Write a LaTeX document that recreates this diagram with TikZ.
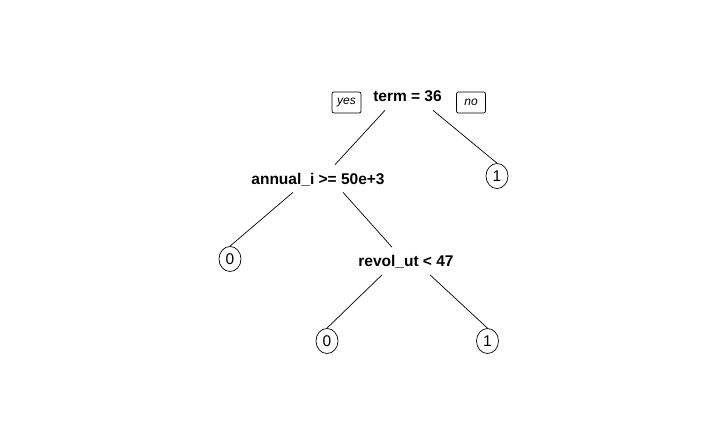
\documentclass[tikz,border=0pt]{standalone}
\usepackage{fontspec}
\setmainfont{Liberation Sans}
\usetikzlibrary{shapes.geometric}

\begin{document}
\begin{tikzpicture}[x=1pt,y=-1pt,line width=0.7pt,
                split/.style={font=\fontsize{15.5}{18}\selectfont\bfseries, inner sep=0pt,
                              text height=11pt, text depth=0pt, minimum height=27pt},
                leaf/.style={draw, ellipse, inner sep=0pt, minimum width=22pt, minimum height=25pt,
                             font=\fontsize{15.5}{18}\selectfont},
                tag/.style={draw, rounded corners=2pt, inner sep=0pt, minimum width=29pt,
                            minimum height=21pt, font=\fontsize{12}{14}\selectfont\itshape}]
                \useasboundingbox (0,0) rectangle (728,441);

                \node[split] (term)   at (407.5,96.5) {term = 36};
                \node[split] (annual) at (318,178.5)  {annual\_i >= 50e+3};
                \node[split] (revol)  at (406,261)    {revol\_ut < 47};

                \node[tag] (yes) at (346.5,102.5) {yes};
                \node[tag] (no)  at (471,102.5)   {no};

                \node[leaf] (leafA) at (497,176)   {1};
                \node[leaf] (leafB) at (230,259)   {0};
                \node[leaf] (leafC) at (327,341)   {0};
                \node[leaf] (leafD) at (487.5,341) {1};

                \draw ([xshift=-22.5pt]term.south) -- ([xshift=17pt]annual.north);
                \draw ([xshift=25.5pt]term.south) -- (leafA.north);

                \draw ([xshift=-25pt]annual.south) -- (leafB.north);
                \draw ([xshift=25pt]annual.south) -- ([xshift=-14pt]revol.north);

                \draw ([xshift=-24pt]revol.south) -- (leafC.north);
                \draw ([xshift=24pt]revol.south) -- (leafD.north);
            \end{tikzpicture}
\end{document}
